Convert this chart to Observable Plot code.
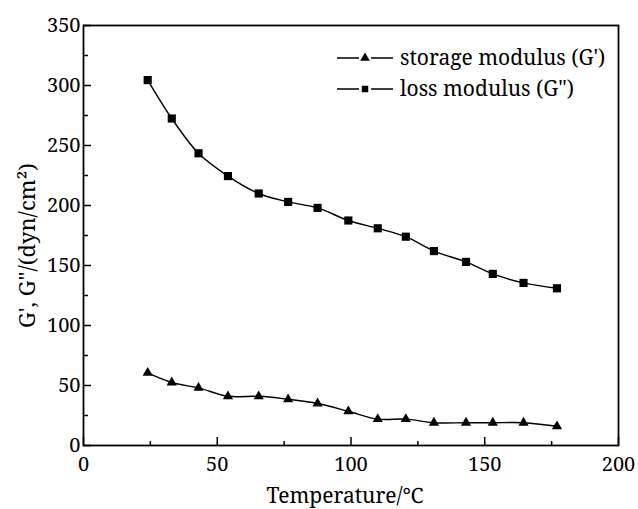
<!DOCTYPE html>
<html>
<head>
<meta charset="utf-8">
<script src="https://cdn.jsdelivr.net/npm/d3@7"></script>
<script src="https://cdn.jsdelivr.net/npm/@observablehq/plot@0.6"></script>
</head>
<body style="margin:0;background:#fff">
<div id="wrap" style="position:relative;width:638px;height:509px"></div>
<script>
// Data
const temperature = [24, 33, 43, 54, 65.5, 76.5, 87.5, 99, 110, 120.5, 131, 143, 153, 164.5, 177];
const storageModulus = [60.5, 52.5, 48, 41, 41, 38.5, 35, 28.5, 22, 22, 19, 19, 19, 19, 16];
const lossModulus = [304.5, 272.5, 243.5, 224.5, 210, 203, 198, 187.5, 181, 174, 162, 153, 143, 135.5, 131];
const seriesNames = ["storage modulus (G')", "loss modulus (G\")"];
const xTicks = [0, 50, 100, 150, 200];
const xMinorTicks = [25, 75, 125, 175];
const yTicks = [0, 50, 100, 150, 200, 250, 300, 350];
const yMinorTicks = [25, 75, 125, 175, 225, 275, 325];
const xLabel = "Temperature/℃";
const yLabel = "G', G\"/(dyn/cm²)";

const storage = temperature.map((t, i) => ({t, v: storageModulus[i]}));
const loss = temperature.map((t, i) => ({t, v: lossModulus[i]}));

const font = "Noto Serif";

const chart = Plot.plot({
  width: 638,
  height: 509,
  marginLeft: 83,
  marginRight: 20,
  marginTop: 25,
  marginBottom: 64,
  style: {fontFamily: font, fontSize: "20px", color: "#000", background: "#fff"},
  x: {domain: [0, 200]},
  y: {domain: [0, 350]},
  marks: [
    Plot.axisX(xTicks, {tickSize: -8, tickPadding: 19, fontSize: 20, fontFamily: font, label: null, strokeWidth: 1.5}),
    Plot.axisX(xMinorTicks, {tickSize: -4, text: null, label: null, strokeWidth: 1.5}),
    Plot.axisY(yTicks, {tickSize: -8, tickPadding: 11, fontSize: 20, fontFamily: font, label: null, strokeWidth: 1.5}),
    Plot.axisY(yMinorTicks, {tickSize: -5, text: null, label: null, strokeWidth: 1.5}),
    Plot.frame({stroke: "#000", strokeWidth: 1.8}),
    Plot.line(loss, {x: "t", y: "v", curve: "catmull-rom", stroke: "#000", strokeWidth: 1.4}),
    Plot.line(storage, {x: "t", y: "v", curve: "catmull-rom", stroke: "#000", strokeWidth: 1.4}),
    Plot.dot(loss, {x: "t", y: "v", symbol: "square", fill: "#000", r: 4.6}),
    Plot.dot(storage, {x: "t", y: "v", symbol: "triangle", fill: "#000", r: 3.8}),
    Plot.text([xLabel], {frameAnchor: "bottom", lineAnchor: "middle", dy: 51, dx: -6, fontSize: 21, fontFamily: font, fill: "#000"}),
    Plot.text([yLabel], {frameAnchor: "left", textAnchor: "middle", rotate: -90, dx: -56, dy: 10, fontSize: 22, fontFamily: font, fill: "#000"})
  ]
});

const wrap = document.getElementById("wrap");
wrap.appendChild(chart);

// Legend
const legend = document.createElement("div");
legend.style.position = "absolute";
legend.style.left = "334px";
legend.style.top = "42px";
legend.style.fontSize = "21px";
legend.style.lineHeight = "31px";
legend.style.color = "#000";
legend.style.fontFamily = font;
const symbols = ["triangle", "square"];
seriesNames.forEach((name, i) => {
  const row = document.createElement("div");
  row.style.display = "flex";
  row.style.alignItems = "center";
  row.style.whiteSpace = "nowrap";
  const ns = "http://www.w3.org/2000/svg";
  const s = document.createElementNS(ns, "svg");
  s.setAttribute("width", "62");
  s.setAttribute("height", "20");
  s.style.marginRight = "4px";
  const line = document.createElementNS(ns, "path");
  line.setAttribute("d", "M3,10H25M37,10H59");
  line.setAttribute("stroke", "#000");
  line.setAttribute("stroke-width", "1.6");
  s.appendChild(line);
  const p = document.createElementNS(ns, "path");
  const sym = symbols[i] === "triangle" ? d3.symbolTriangle : d3.symbolSquare;
  p.setAttribute("d", d3.symbol(sym, symbols[i] === "triangle" ? 40 : 42)());
  p.setAttribute("transform", "translate(31,10)");
  p.setAttribute("fill", "#000");
  s.appendChild(p);
  row.appendChild(s);
  const span = document.createElement("span");
  span.style.fontFamily = font;
  span.textContent = name;
  row.appendChild(span);
  legend.appendChild(row);
});
wrap.appendChild(legend);
</script>
</body>
</html>
